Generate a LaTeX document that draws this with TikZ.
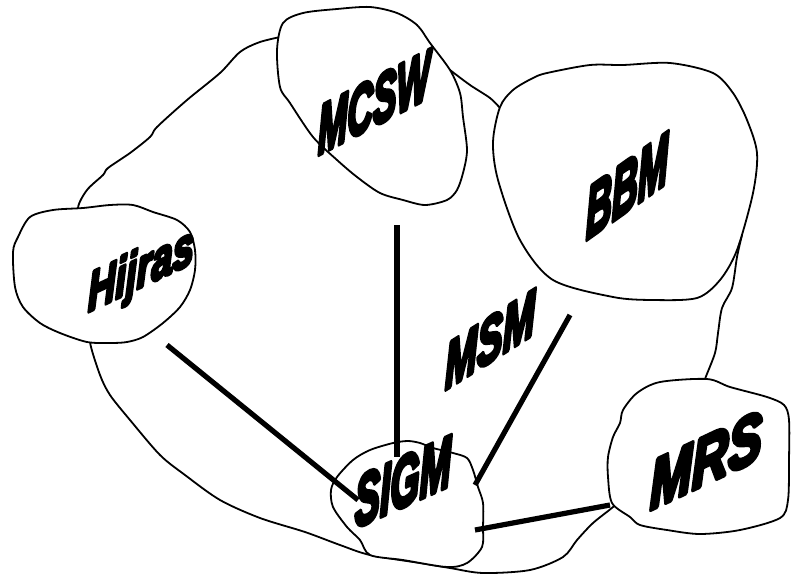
\documentclass[tikz,border=0pt]{standalone}
\usepackage{fontspec}
\setmainfont{Liberation Sans}[BoldItalicFeatures={FakeBold=7}]
\usepackage{graphicx}
\newcommand\lbltxt[3]{\resizebox{#1pt}{#2pt}{\bfseries\itshape #3}}
\begin{document}
\begin{tikzpicture}[x=1pt,y=-1pt,
  outline/.style={line width=1.8pt, line join=round, line cap=round},
  blob/.style={outline, fill=white},
  link/.style={line width=5.2pt},
  lab/.style={transform shape, anchor=base west, inner sep=0pt, outer sep=0pt,
     line join=round, miter limit=1, font=\fontsize{40}{40}\selectfont}]
\useasboundingbox (0,0) rectangle (791,576);
% big MSM blob (visible parts)
\draw[outline] plot[smooth, tension=0.5] coordinates {(85,225) (78,208) (87,190) (103,175) (108,168) (130,153) (150,137) (157,127) (187,100) (220,73) (240,52) (260,42) (285,36)};
\draw[outline] plot[smooth, tension=0.5] coordinates {(440,62) (450,70) (470,85) (490,98) (500,108) (510,120)};
\draw[outline] plot[smooth, tension=0.5] coordinates {(742,235) (737,257) (732,288) (722,308) (718,333) (715,353) (705,379) (700,395)};
\draw[outline] plot[smooth, tension=0.5] coordinates {(95,330) (90,342) (100,375) (110,395) (130,420) (160,455) (185,475) (220,500) (260,518) (305,532) (340,545) (370,555) (420,563) (450,568) (483,573) (530,570) (563,557) (577,540) (593,523) (613,507) (625,495)};
% small blobs
\draw[blob] plot[smooth cycle, tension=0.5] coordinates {(283,23) (303,13) (337,9) (370,7) (397,13) (417,25) (430,43) (450,70) (460,93) (463,117) (467,150) (463,173) (457,190) (447,200) (425,205) (403,200) (380,193) (357,177) (337,160) (313,137) (290,103) (280,87) (277,50)};
\draw[blob] plot[smooth cycle, tension=0.5] coordinates {(500,107) (513,90) (533,78) (547,73) (590,65) (623,65) (670,63) (713,73) (733,93) (747,120) (757,153) (753,193) (737,250) (720,280) (697,298) (653,300) (613,297) (553,280) (520,240) (498,180) (493,142)};
\draw[blob] plot[smooth cycle, tension=0.5] coordinates {(18,237) (30,217) (53,210) (83,208) (110,205) (133,205) (153,212) (177,220) (190,232) (195,250) (195,270) (190,290) (180,307) (163,323) (143,337) (127,342) (110,343) (87,342) (60,333) (40,323) (23,307) (15,287) (13,252)};
\draw[blob] plot[smooth cycle, tension=0.5] coordinates {(353,460) (370,450) (393,443) (408,441) (420,443) (433,448) (453,453) (467,458) (473,470) (478,487) (483,503) (483,527) (482,547) (467,563) (447,567) (403,560) (370,555) (360,540) (347,527) (333,507) (331,490) (337,477)};
\draw[blob] plot[smooth cycle, tension=0.5] coordinates {(660,382) (707,379) (730,387) (767,397) (784,405) (789,420) (789,460) (788,500) (780,518) (740,530) (700,534) (667,530) (640,525) (630,517) (612,503) (608,477) (608,457) (613,437) (620,423) (623,410) (637,393)};
% connector ends
\coordinate (hj) at (167,345);
\coordinate (sg1) at (358,500);
\coordinate (mc) at (397,225);
\coordinate (sg2) at (397,457);
\coordinate (bb) at (570,315);
\coordinate (sg3) at (475,485);
\coordinate (sg4) at (475,530);
\coordinate (mr) at (610,505);
\draw[link] (hj) -- (sg1);
\draw[link] (mc) -- (sg2);
\draw[link] (bb) -- (sg3);
\draw[link] (sg4) -- (mr);
% labels
\node[lab, yslant=0.52] (mcsw) at (318,155) {\lbltxt{112}{48}{MCSW}};
\node[lab, yslant=0.47] (hijras) at (88,312) {\lbltxt{106}{40}{Hijras}};
\node[lab, yslant=0.71] (bbm) at (586,240) {\lbltxt{82}{50}{BBM}};
\node[lab, yslant=0.63] (msm) at (445,390) {\lbltxt{90}{45}{MSM}};
\node[lab, yslant=0.45] (sigm) at (355,528) {\lbltxt{96}{50}{SIGM}};
\node[lab, yslant=0.47] (mrs) at (650,510) {\lbltxt{112}{48}{MRS}};
\end{tikzpicture}
\end{document}
